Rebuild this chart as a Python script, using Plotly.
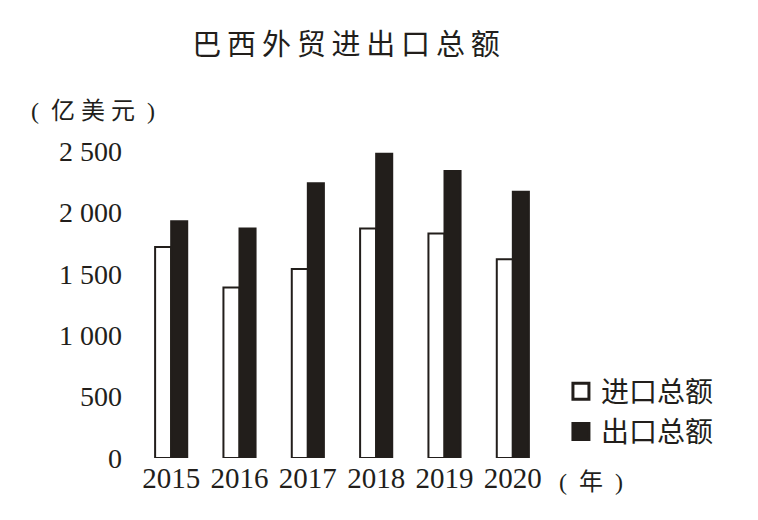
import plotly.graph_objects as go

years = ["2015", "2016", "2017", "2018", "2019", "2020"]
imports = [1720, 1390, 1540, 1870, 1830, 1620]
exports = [1930, 1870, 2240, 2480, 2340, 2170]
y_ticks = [0, 500, 1000, 1500, 2000, 2500]
y_tick_text = ["0", "500", "1 000", "1 500", "2 000", "2 500"]

INK = "#221e1b"
CJK = "Noto Sans CJK SC"
SERIF = "Liberation Serif, Times New Roman, serif"
MIXED = "Liberation Serif, Noto Sans CJK SC, serif"

fig = go.Figure()
fig.add_trace(go.Bar(
    x=years, y=imports, name="进口总额", showlegend=False,
    marker=dict(color="white", line=dict(color=INK, width=2)),
))
fig.add_trace(go.Bar(
    x=years, y=exports, name="出口总额", showlegend=False,
    marker=dict(color=INK, line=dict(color=INK, width=2)),
))

# legend entries drawn as square markers, closer to the printed legend
for label, fill, grp in [("进口总额", "white", "a"), ("出口总额", INK, "b")]:
    fig.add_trace(go.Scatter(
        x=[None], y=[None], mode="markers", name=label, legendgroup=grp,
        marker=dict(symbol="square", size=16, color=fill,
                    line=dict(color=INK, width=3)),
    ))

# the page body adds an 8px offset, so positions below are 8px up/left
fig.update_layout(
    width=758, height=520,
    margin=dict(l=129, r=219, t=131, b=70),
    paper_bgcolor="white", plot_bgcolor="white",
    barmode="group", bargap=0.53, bargroupgap=0,
    title=dict(
        text="\u2009".join("巴西外贸进出口总额"),
        x=338 / 758, xanchor="center", xref="container",
        y=1 - 37 / 520, yanchor="middle", yref="container",
        font=dict(family=CJK, size=29, color=INK),
    ),
    legend=dict(
        x=1.034, xanchor="left", y=0.287, yanchor="top",
        font=dict(family=CJK, size=28, color=INK),
        tracegroupgap=1, bgcolor="rgba(0,0,0,0)",
    ),
    showlegend=True,
)

fig.update_xaxes(
    type="category", range=[-0.5, 5.5],
    showline=False, showgrid=False, zeroline=False, ticks="",
    tickfont=dict(family=SERIF, size=29, color=INK),
)
fig.update_yaxes(
    range=[0, 2600], tickvals=y_ticks, ticktext=y_tick_text,
    showline=False, showgrid=False, zeroline=False, ticks="",
    ticklabelstandoff=14,
    tickfont=dict(family=SERIF, size=28, color=INK),
)

fig.add_annotation(
    text="(\u2002亿 美 元\u2002)", xref="paper", yref="paper", x=0, y=1,
    xanchor="left", yanchor="middle", xshift=-108, yshift=28,
    showarrow=False, font=dict(family=MIXED, size=24, color=INK),
)
fig.add_annotation(
    text="(\u2002年\u2002)", xref="paper", yref="paper", x=1, y=0,
    xanchor="left", yanchor="middle", xshift=10, yshift=-24,
    showarrow=False, font=dict(family=MIXED, size=24, color=INK),
)

fig.write_html("out.html")
